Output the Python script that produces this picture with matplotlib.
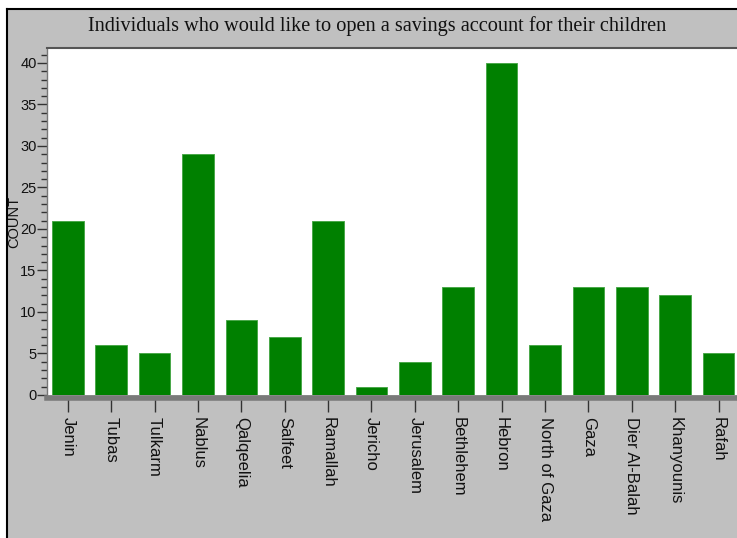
import matplotlib.pyplot as plt
from matplotlib.patches import Rectangle
from matplotlib.lines import Line2D
from matplotlib.ticker import MultipleLocator

plt.rcParams["font.family"] = ["Liberation Sans", "DejaVu Sans"]

# data
regions = ["Jenin", "Tubas", "Tulkarm", "Nablus", "Qalqeelia", "Salfeet",
           "Ramallah", "Jericho", "Jerusalem", "Bethlehem", "Hebron",
           "North of Gaza", "Gaza", "Dier Al-Balah", "Khanyounis", "Rafah"]
counts = [21, 6, 5, 29, 9, 7, 21, 1, 4, 13, 40, 6, 13, 13, 12, 5]

W, H = 737, 538
fig = plt.figure(figsize=(W / 100, H / 100), dpi=100)
fig.patch.set_facecolor("white")

# grey panel with black frame on top/left
fig.patches.append(Rectangle((7 / W, 0), 1 - 7 / W, 1 - 9 / H, transform=fig.transFigure,
                             facecolor="#c0c0c0", edgecolor="none", zorder=-5))
fig.add_artist(Line2D([7 / W, 1], [1 - 9 / H, 1 - 9 / H], color="black", lw=1.5, zorder=-4))
fig.add_artist(Line2D([7 / W, 7 / W], [0, 1 - 9 / H], color="black", lw=1.5, zorder=-4))

ax = fig.add_axes([47 / W, 143 / H, 1 - 47 / W + 0.002, 347 / H])
ax.set_zorder(2)
ax.set_facecolor("white")

x = list(range(len(regions)))
ax.bar(x, counts, width=0.73, color="#008000", edgecolor="#4aa84a", linewidth=0.7, zorder=3)

ax.set_xlim(-0.48, 15.46)
ax.set_ylim(0, 41.8)
ax.set_xticks(x, regions)
ax.yaxis.set_major_locator(MultipleLocator(5))
ax.yaxis.set_minor_locator(MultipleLocator(1))
ax.tick_params(axis="y", which="major", length=7, width=1, color="#333333",
               labelsize=10.5, pad=0.5, labelcolor="#111111")
ax.tick_params(axis="y", which="minor", length=4, width=1, color="#333333")
ax.tick_params(axis="x", length=10, width=1, color="#333333", pad=4,
               labelsize=12, labelrotation=270, labelcolor="#111111")
plt.setp(ax.get_xticklabels(), ha="center", va="top")

ax.spines["right"].set_visible(False)
ax.spines["top"].set_color("#555555")
ax.spines["top"].set_linewidth(1.5)
ax.spines["left"].set_color("#777777")
ax.spines["left"].set_linewidth(1)
ax.spines["bottom"].set_color("#7a7a7a")
ax.spines["bottom"].set_linewidth(4)
ax.spines["bottom"].set_position(("outward", 2))

ax.set_ylabel("COUNT", fontsize=10.5, labelpad=0, color="#111111")
ax.yaxis.set_label_coords(-0.037, 0.5)

fig.text(377 / W, 1 - 26 / H,
         "Individuals who would like to open a savings account for their children",
         ha="center", va="center", fontsize=14.6, family="Liberation Serif", color="#111111")

fig.savefig("out.png", dpi=100, facecolor=fig.get_facecolor())
